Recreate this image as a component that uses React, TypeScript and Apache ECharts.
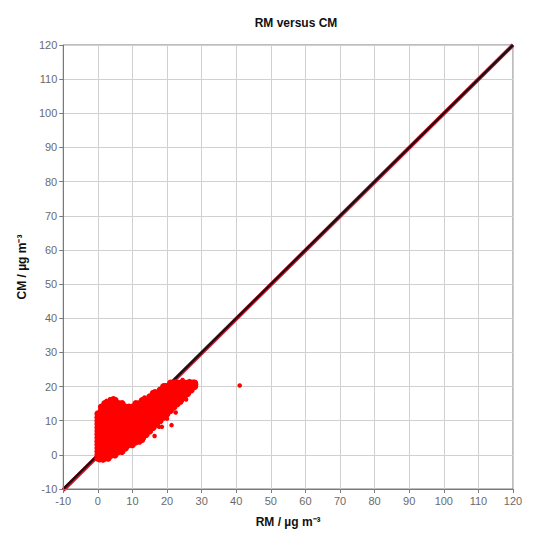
import React, { useEffect, useRef } from "react";
import * as echarts from "echarts";

const axisMin = -10;
const axisMax = 120;
const axisInterval = 10;

const titleText = "RM versus CM";
const xName = "RM / µg m⁻³";
const yName = "CM / µg m⁻³";

// dense cloud of observations, listed as columns: [RM, [CM values]]
const clusterColumns: [number, number[]][] = [
  [0, [-1, 0, 1, 2, 3, 4, 5, 6, 7, 8, 9, 10, 11, 12]],
  [1, [-1, 0, 1, 2, 3, 4, 5, 6, 7, 8, 9, 10, 11, 12, 13, 14]],
  [2, [-1, 0, 1, 2, 3, 4, 5, 6, 7, 8, 9, 10, 11, 12, 13, 14, 15]],
  [3, [-1, 0, 1, 2, 3, 4, 5, 6, 7, 8, 9, 10, 11, 12, 13, 14, 15]],
  [4, [0, 1, 2, 3, 4, 5, 6, 7, 8, 9, 10, 11, 12, 13, 14, 15, 16]],
  [5, [0, 1, 2, 3, 4, 5, 6, 7, 8, 9, 10, 11, 12, 13, 14, 15, 16]],
  [6, [1, 2, 3, 4, 5, 6, 7, 8, 9, 10, 11, 12, 13, 14, 15]],
  [7, [1, 2, 3, 4, 5, 6, 7, 8, 9, 10, 11, 12, 13, 14, 15]],
  [8, [2, 3, 4, 5, 6, 7, 8, 9, 10, 11, 12, 13, 14]],
  [9, [3, 4, 5, 6, 7, 8, 9, 10, 11, 12, 13, 14]],
  [10, [3, 4, 5, 6, 7, 8, 9, 10, 11, 12, 13, 14]],
  [11, [4, 5, 6, 7, 8, 9, 10, 11, 12, 13, 14, 15]],
  [12, [4, 5, 6, 7, 8, 9, 10, 11, 12, 13, 14, 15]],
  [13, [5, 6, 7, 8, 9, 10, 11, 12, 13, 14, 15, 16]],
  [14, [6, 7, 8, 9, 10, 11, 12, 13, 14, 15, 16]],
  [15, [7, 8, 9, 10, 11, 12, 13, 14, 15, 16, 17]],
  [16, [8, 9, 10, 11, 12, 13, 14, 15, 16, 17, 18]],
  [17, [9, 10, 11, 12, 13, 14, 15, 16, 17, 18]],
  [18, [10, 11, 12, 13, 14, 15, 16, 17, 18, 19]],
  [19, [11, 12, 13, 14, 15, 16, 17, 18, 19, 20]],
  [20, [12, 13, 14, 15, 16, 17, 18, 19, 20]],
  [21, [13, 14, 15, 16, 17, 18, 19, 20, 21]],
  [22, [14, 15, 16, 17, 18, 19, 20, 21]],
  [23, [15, 16, 17, 18, 19, 20, 21]],
  [24, [16, 17, 18, 19, 20, 21]],
  [25, [17, 18, 19, 20, 21]],
  [26, [18, 19, 20, 21]],
  [27, [19, 20, 21]],
  [28, [20, 21]],
];

// scattered points at the edges of the cloud and outliers
const edgePoints: [number, number][] = [
  [2.5, 15.8], [3.5, 16.3], [4.5, 16.6], [12.5, 16.1], [13.5, 16.8],
  [16.5, 18.6], [19.5, 20.4], [22.5, 21.5], [24.5, 21.9], [26.5, 21.6],
  [27.6, 21.4], [28.4, 20.6], [0.5, -1.6], [1.5, -1.7], [11, 3.4],
  [13, 4.2], [16.4, 5.5], [17.7, 8.2], [18.5, 8.2], [21.3, 8.7],
  [20, 10.6], [22.5, 12.4], [24, 15.3], [27, 18.8], [25.5, 16.2],
];
const outlierPoints: [number, number][] = [[41, 20.3]];

// fitted line (red) and 1:1 line (black): [x1, y1, x2, y2]
const refLines: { coords: [number, number, number, number]; color: string; width: number }[] = [
  { coords: [-10, -10.3, 120, 120], color: "#d0102a", width: 4 },
  { coords: [-10, -10, 120, 120], color: "#111111", width: 2.2 },
];

const clusterData: [number, number][] = [];
clusterColumns.forEach(([x, ys]) => ys.forEach((y) => clusterData.push([x, y])));

const font = "'Liberation Sans', Arial, sans-serif";

export default function App() {
  const ref = useRef<HTMLDivElement>(null);
  useEffect(() => {
    if (!ref.current) return;
    const chart = echarts.init(ref.current, undefined, { renderer: "svg" });
    const axisCommon = {
      type: "value",
      min: axisMin,
      max: axisMax,
      interval: axisInterval,
      nameLocation: "middle",
      nameTextStyle: { color: "#111", fontSize: 12, fontWeight: "bold", fontFamily: font },
      axisLine: { show: true, onZero: false, lineStyle: { color: "#7a7a7a", width: 1 } },
      axisTick: { show: true, length: 4, lineStyle: { color: "#7a7a7a" } },
      axisLabel: { color: "#6a6a6a", fontSize: 11, fontFamily: font, margin: 6 },
      splitLine: { show: true, lineStyle: { color: "#d0d0d0", width: 1 } },
    };
    chart.setOption({
      animation: false,
      backgroundColor: "#ffffff",
      title: {
        text: titleText,
        left: 283,
        textAlign: "center",
        top: 4,
        textStyle: { fontSize: 12, fontWeight: "bold", color: "#111", fontFamily: font },
      },
      grid: {
        left: 54,
        right: 39,
        top: 37,
        bottom: 54,
        show: true,
        borderColor: "#7a7a7a",
        borderWidth: 1,
      },
      xAxis: { ...axisCommon, name: xName, nameGap: 27 },
      yAxis: { ...axisCommon, name: yName, nameGap: 35 },
      series: [
        {
          type: "custom",
          data: refLines.map((l) => l.coords),
          z: 0,
          silent: true,
          renderItem: (params: any, api: any) => {
            const l = refLines[params.dataIndex];
            const p1 = api.coord([l.coords[0], l.coords[1]]);
            const p2 = api.coord([l.coords[2], l.coords[3]]);
            return {
              type: "line",
              shape: { x1: p1[0], y1: p1[1], x2: p2[0], y2: p2[1] },
              style: { stroke: l.color, lineWidth: l.width },
            };
          },
        },
        {
          type: "scatter",
          data: clusterData,
          symbol: "circle",
          symbolSize: 7,
          itemStyle: { color: "#ff0000", opacity: 1 },
          z: 5,
        },
        {
          type: "scatter",
          data: edgePoints.concat(outlierPoints),
          symbol: "circle",
          symbolSize: 4.5,
          itemStyle: { color: "#ff0000", opacity: 1 },
          z: 5,
        },
      ],
    });
    return () => chart.dispose();
  }, []);
  return <div ref={ref} style={{ width: 544, height: 535 }} />;
}
